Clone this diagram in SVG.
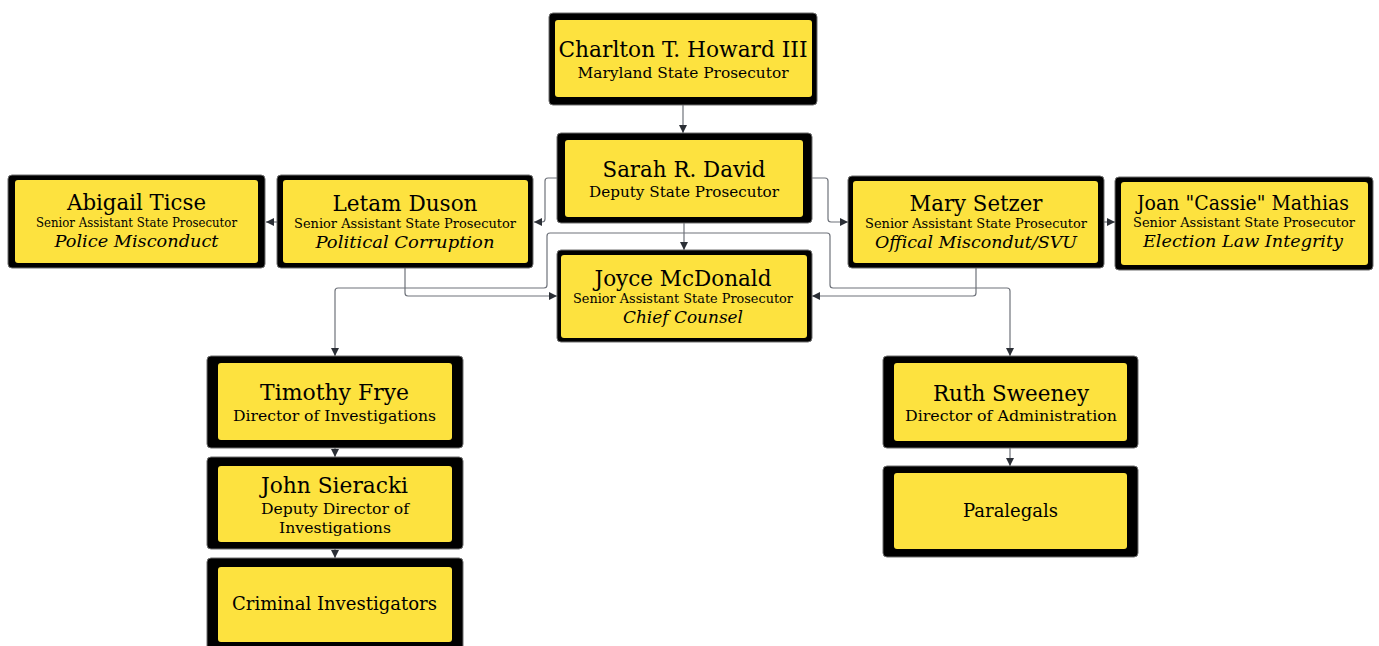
<svg xmlns="http://www.w3.org/2000/svg" width="1379" height="646" viewBox="0 0 1379 646">
<style>
.outer{fill:#000;stroke:#6e6e6e;stroke-width:1}
.inner{fill:#fde23f}
text{font-family:"DejaVu Serif","Liberation Serif",serif;fill:#000;text-anchor:middle}
.nm{font-size:22px}
.sb{font-size:15.5px}
.sm{font-size:12.5px}
.it{font-size:17.5px;font-style:italic}
.lg{font-size:18px}
.cn{fill:none;stroke:#6f737b;stroke-width:1.2}
</style>
<defs>
<marker id="ah" viewBox="0 0 10 10" refX="10" refY="5" markerWidth="8" markerHeight="8" markerUnits="userSpaceOnUse" orient="auto">
<path d="M0,0 L10,5 L0,10 z" fill="#2b2f36"/>
</marker>
</defs>
<rect width="1379" height="646" fill="#fff"/>
<g id="connectors">
<path class="cn" marker-end="url(#ah)" d="M683,105 V133"/>
<path class="cn" marker-end="url(#ah)" d="M557,178 H548 Q545,178 545,181 V219 Q545,222 542,222 H534"/>
<path class="cn" marker-end="url(#ah)" d="M812,178 H825 Q828,178 828,181 V219 Q828,222 831,222 H848"/>
<path class="cn" marker-end="url(#ah)" d="M277,222 H266"/>
<path class="cn" marker-end="url(#ah)" d="M1104,222 H1115"/>
<path class="cn" marker-end="url(#ah)" d="M684,223 V250"/>
<path class="cn" marker-end="url(#ah)" d="M684,233 H550 Q547,233 547,236 V285 Q547,288 544,288 H338 Q335,288 335,291 V356"/>
<path class="cn" marker-end="url(#ah)" d="M684,233 H827 Q830,233 830,236 V285 Q830,288 833,288 H1007 Q1010,288 1010,291 V356"/>
<path class="cn" marker-end="url(#ah)" d="M405,268 V293 Q405,296 408,296 H557"/>
<path class="cn" marker-end="url(#ah)" d="M976,268 V293 Q976,296 973,296 H812"/>
<path class="cn" marker-end="url(#ah)" d="M335,448 V457"/>
<path class="cn" marker-end="url(#ah)" d="M335,549 V558"/>
<path class="cn" marker-end="url(#ah)" d="M1010,448 V466"/>
</g>
<g id="n-charlton">
<rect class="outer" x="549" y="13" width="268" height="92" rx="4"/>
<rect class="inner" x="555" y="20" width="257" height="77" rx="3"/>
<text class="nm" x="683" y="57" textLength="249" lengthAdjust="spacingAndGlyphs">Charlton T. Howard III</text>
<text class="sb" x="683" y="78" textLength="211" lengthAdjust="spacingAndGlyphs">Maryland State Prosecutor</text>
</g>
<g id="n-sarah">
<rect class="outer" x="557" y="133" width="255" height="90" rx="4"/>
<rect class="inner" x="565" y="140" width="238" height="77" rx="3"/>
<text class="nm" x="684" y="177" textLength="163" lengthAdjust="spacingAndGlyphs">Sarah R. David</text>
<text class="sb" x="684" y="197" textLength="190" lengthAdjust="spacingAndGlyphs">Deputy State Prosecutor</text>
</g>
<g id="n-joyce">
<rect class="outer" x="557" y="250" width="255" height="92" rx="4"/>
<rect class="inner" x="561" y="255" width="246" height="83" rx="3"/>
<text class="nm" x="683" y="286" textLength="177" lengthAdjust="spacingAndGlyphs">Joyce McDonald</text>
<text class="sm" x="683" y="303" textLength="220" lengthAdjust="spacingAndGlyphs">Senior Assistant State Prosecutor</text>
<text class="it" x="683" y="323" textLength="120" lengthAdjust="spacingAndGlyphs">Chief Counsel</text>
</g>
<g id="n-abigail">
<rect class="outer" x="8" y="175" width="257" height="93" rx="4"/>
<rect class="inner" x="15" y="180" width="243" height="83" rx="3"/>
<text class="nm" x="136.5" y="210" textLength="139" lengthAdjust="spacingAndGlyphs">Abigail Ticse</text>
<text class="sm" x="136.5" y="227" textLength="201" lengthAdjust="spacingAndGlyphs">Senior Assistant State Prosecutor</text>
<text class="it" x="136.5" y="247" textLength="164" lengthAdjust="spacingAndGlyphs">Police Misconduct</text>
</g>
<g id="n-letam">
<rect class="outer" x="277" y="175" width="256" height="93" rx="4"/>
<rect class="inner" x="283" y="180" width="245" height="83" rx="3"/>
<text class="nm" x="405" y="211" textLength="145" lengthAdjust="spacingAndGlyphs">Letam Duson</text>
<text class="sm" x="405" y="228" textLength="222" lengthAdjust="spacingAndGlyphs">Senior Assistant State Prosecutor</text>
<text class="it" x="405" y="248" textLength="179" lengthAdjust="spacingAndGlyphs">Political Corruption</text>
</g>
<g id="n-mary">
<rect class="outer" x="848" y="176" width="256" height="92" rx="4"/>
<rect class="inner" x="853" y="181" width="245" height="82" rx="3"/>
<text class="nm" x="976" y="211" textLength="133" lengthAdjust="spacingAndGlyphs">Mary Setzer</text>
<text class="sm" x="976" y="228" textLength="222" lengthAdjust="spacingAndGlyphs">Senior Assistant State Prosecutor</text>
<text class="it" x="976" y="248" textLength="202" lengthAdjust="spacingAndGlyphs">Offical Miscondut/SVU</text>
</g>
<g id="n-joan">
<rect class="outer" x="1115" y="177" width="258" height="93" rx="4"/>
<rect class="inner" x="1121" y="182" width="247" height="83" rx="3"/>
<text class="nm" x="1243" y="210" style="font-size:20px" textLength="212" lengthAdjust="spacingAndGlyphs">Joan "Cassie" Mathias</text>
<text class="sm" x="1244" y="227" textLength="222" lengthAdjust="spacingAndGlyphs">Senior Assistant State Prosecutor</text>
<text class="it" x="1243" y="247" textLength="200" lengthAdjust="spacingAndGlyphs">Election Law Integrity</text>
</g>
<g id="n-timothy">
<rect class="outer" x="207" y="356" width="256" height="92" rx="4"/>
<rect class="inner" x="218" y="363" width="234" height="77" rx="3"/>
<text class="nm" x="334.5" y="400" textLength="149" lengthAdjust="spacingAndGlyphs">Timothy Frye</text>
<text class="sb" x="334.5" y="421" textLength="203" lengthAdjust="spacingAndGlyphs">Director of Investigations</text>
</g>
<g id="n-john">
<rect class="outer" x="207" y="457" width="256" height="92" rx="4"/>
<rect class="inner" x="218" y="466" width="234" height="76" rx="3"/>
<text class="nm" x="334.5" y="493" textLength="147" lengthAdjust="spacingAndGlyphs">John Sieracki</text>
<text class="sb" x="335" y="514" textLength="148" lengthAdjust="spacingAndGlyphs">Deputy Director of</text>
<text class="sb" x="335" y="533" textLength="112" lengthAdjust="spacingAndGlyphs">Investigations</text>
</g>
<g id="n-criminal">
<rect class="outer" x="207" y="558" width="256" height="100" rx="4"/>
<rect class="inner" x="218" y="567" width="234" height="75" rx="3"/>
<text class="lg" x="334.5" y="610" textLength="205" lengthAdjust="spacingAndGlyphs">Criminal Investigators</text>
</g>
<g id="n-ruth">
<rect class="outer" x="883" y="356" width="255" height="92" rx="4"/>
<rect class="inner" x="894" y="363" width="233" height="78" rx="3"/>
<text class="nm" x="1011" y="401" textLength="156" lengthAdjust="spacingAndGlyphs">Ruth Sweeney</text>
<text class="sb" x="1011" y="421" textLength="212" lengthAdjust="spacingAndGlyphs">Director of Administration</text>
</g>
<g id="n-paralegals">
<rect class="outer" x="883" y="466" width="255" height="91" rx="4"/>
<rect class="inner" x="894" y="473" width="233" height="76" rx="3"/>
<text class="lg" x="1010.5" y="517" textLength="95" lengthAdjust="spacingAndGlyphs">Paralegals</text>
</g>
</svg>
